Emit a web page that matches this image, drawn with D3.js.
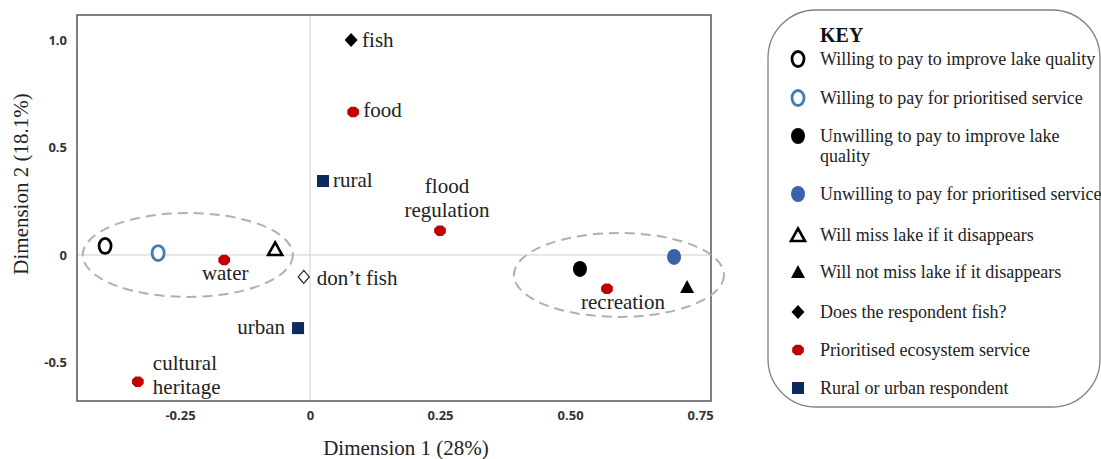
<!DOCTYPE html>
<html>
<head>
<meta charset="utf-8">
<script src="https://cdn.jsdelivr.net/npm/d3@7"></script>
<style>
  body { margin: 0; background: #fff; }
  svg text { font-family: "Palatino Linotype", "Book Antiqua", Palatino, "Liberation Serif", serif; fill: #222; }
  .tick text { font-family: "Open Sans", sans-serif; font-weight: 700; font-size: 13px; fill: #333; }
</style>
</head>
<body>
<div id="chart"></div>
<script>

// points of the correspondence analysis
var pointNames = ["fish", "food", "rural", "flood\nregulation", "", "", "water", "",
                  "don\u2019t fish", "urban", "cultural\nheritage", "", "recreation", "", ""];
var pointKinds = ["diamond", "hex", "square", "hex", "openCircle", "openCircleBlue", "hex", "openTri",
                  "openDiamond", "square", "hex", "dot", "hex", "dotBlue", "tri"];
var dim1 = [0.079, 0.083, 0.025, 0.250, -0.394, -0.292, -0.165, -0.067,
            -0.012, -0.023, -0.331, 0.519, 0.571, 0.700, 0.725];
var dim2 = [1.000, 0.665, 0.344, 0.113, 0.042, 0.009, -0.023, 0.028,
            -0.102, -0.340, -0.589, -0.065, -0.157, -0.009, -0.149];

// dashed cluster ellipses (data units)
var clusterCx = [-0.235, 0.594];
var clusterCy = [0.000, -0.093];
var clusterRx = [0.202, 0.202];
var clusterRy = [0.195, 0.195];

// axes
var xTicks = [-0.25, 0, 0.25, 0.5, 0.75];
var xTickLabels = ["-0.25", "0", "0.25", "0.50", "0.75"];
var yTicks = [-0.5, 0, 0.5, 1.0];
var yTickLabels = ["-0.5", "0", "0.5", "1.0"];

// key
var keyKinds = ["openCircle", "openCircleBlue", "dot", "dotBlue", "openTri", "tri", "diamond", "hex", "square"];
var keyLabels = ["Willing to pay to improve lake quality",
                 "Willing to pay for prioritised service",
                 "Unwilling to pay to improve lake\nquality",
                 "Unwilling to pay for prioritised service",
                 "Will miss lake if it disappears",
                 "Will not miss lake if it disappears",
                 "Does the respondent fish?",
                 "Prioritised ecosystem service",
                 "Rural or urban respondent"];

//--------------------------------------------------------------------------
//
// chart
//

var margin = {top: 15, right: 390, bottom: 58, left: 77},
    outerWidth = 1101,
    outerHeight = 459,
    width = outerWidth - margin.left - margin.right,
    height = outerHeight - margin.top - margin.bottom;

var svg = d3.select("#chart").append("svg")
    .attr("width", outerWidth)
    .attr("height", outerHeight);

var g = svg.append("g")
    .attr("transform", "translate(" + margin.left + "," + margin.top + ")");

var x = d3.scaleLinear().domain([-0.448, 0.771]).range([0, width]);
var y = d3.scaleLinear().domain([-0.679, 1.116]).range([height, 0]);

// zero lines
g.append("line")
    .attr("x1", x(0)).attr("x2", x(0)).attr("y1", 0).attr("y2", height)
    .attr("stroke", "#cfcfcf").attr("stroke-width", 1);
g.append("line")
    .attr("x1", 0).attr("x2", width).attr("y1", y(0)).attr("y2", y(0))
    .attr("stroke", "#cfcfcf").attr("stroke-width", 1);

// axes
var xAxis = g.append("g")
    .attr("transform", "translate(0," + height + ")")
    .call(d3.axisBottom(x).tickValues(xTicks).tickSize(0).tickPadding(10)
      .tickFormat(function(d, i) { return xTickLabels[i]; }));
xAxis.select(".domain").remove();

var yAxis = g.append("g")
    .call(d3.axisLeft(y).tickValues(yTicks).tickSize(0).tickPadding(10)
      .tickFormat(function(d, i) { return yTickLabels[i]; }));
yAxis.select(".domain").remove();

// frame
g.append("rect")
    .attr("width", width).attr("height", height)
    .attr("fill", "none").attr("stroke", "#555").attr("stroke-width", 1.5);

// axis titles
svg.append("text")
    .attr("x", 406).attr("y", 455)
    .attr("text-anchor", "middle")
    .style("font-size", "21px")
    .text("Dimension 1 (28%)");

svg.append("text")
    .attr("transform", "translate(28,184) rotate(-90)")
    .attr("text-anchor", "middle")
    .style("font-size", "21px")
    .text("Dimension 2 (18.1%)");

// clusters
g.selectAll(".cluster")
    .data(clusterCx)
  .enter().append("ellipse")
    .attr("class", "cluster")
    .attr("cx", function(d) { return x(d); })
    .attr("cy", function(d, i) { return y(clusterCy[i]); })
    .attr("rx", function(d, i) { return x(clusterRx[i]) - x(0); })
    .attr("ry", function(d, i) { return y(0) - y(clusterRy[i]); })
    .attr("fill", "none")
    .attr("stroke", "#b0b0b0")
    .attr("stroke-width", 2)
    .attr("stroke-dasharray", "10,6");

// marker drawing
var red = "#c00000", navy = "#0c2a5e", blue1 = "#3f7bb6", blue2 = "#3b62a8";

function octagon(r) {
  return d3.line()(d3.range(8).map(function(k) {
    var a = Math.PI / 8 + k * Math.PI / 4;
    return [r * Math.cos(a), r * Math.sin(a) * 0.9];
  })) + "Z";
}

function drawMarker(sel, kind) {
  if (kind === "openCircle" || kind === "openCircleBlue") {
    sel.append("ellipse").attr("rx", 6).attr("ry", 7.5)
      .attr("fill", "#fff")
      .attr("stroke", kind === "openCircle" ? "#000" : blue1)
      .attr("stroke-width", 2.8);
  } else if (kind === "dot" || kind === "dotBlue") {
    sel.append("ellipse").attr("rx", 7).attr("ry", 8)
      .attr("fill", kind === "dot" ? "#000" : blue2);
  } else if (kind === "openTri") {
    sel.append("path").attr("d", "M0,-6.5L7,6L-7,6Z")
      .attr("fill", "#fff").attr("stroke", "#000").attr("stroke-width", 2.6)
      .attr("stroke-linejoin", "miter");
  } else if (kind === "tri") {
    sel.append("path").attr("d", "M0,-7L7,6L-7,6Z").attr("fill", "#000");
  } else if (kind === "diamond") {
    sel.append("path").attr("d", "M0,-7L6.5,0L0,7L-6.5,0Z").attr("fill", "#000");
  } else if (kind === "openDiamond") {
    sel.append("path").attr("d", "M0,-6.5L5.5,0L0,6.5L-5.5,0Z")
      .attr("fill", "#fff").attr("stroke", "#222").attr("stroke-width", 1.2);
  } else if (kind === "hex") {
    sel.append("path").attr("d", octagon(6.3)).attr("fill", red);
  } else if (kind === "square") {
    sel.append("rect").attr("x", -6).attr("y", -6).attr("width", 12).attr("height", 12)
      .attr("fill", navy);
  }
}

// label placement: [dx, dy of first baseline, anchor]
var labelPlace = {
  "fish": [11, 7, "start"],
  "food": [10, 5, "start"],
  "rural": [10, 6, "start"],
  "flood\nregulation": [7, -38, "middle"],
  "water": [1, 20, "middle"],
  "don\u2019t fish": [13, 8, "start"],
  "urban": [-13, 6, "end"],
  "cultural\nheritage": [15, -12, "start"],
  "recreation": [16, 20, "middle"]
};

var points = g.selectAll(".point")
    .data(dim1)
  .enter().append("g")
    .attr("class", "point")
    .attr("transform", function(d, i) { return "translate(" + x(d) + "," + y(dim2[i]) + ")"; });

points.each(function(d, i) {
  var sel = d3.select(this);
  drawMarker(sel, pointKinds[i]);
  var name = pointNames[i];
  if (!name) return;
  var p = labelPlace[name];
  var t = sel.append("text")
      .attr("text-anchor", p[2])
      .style("font-size", "21px");
  name.split("\n").forEach(function(line, j) {
    t.append("tspan").attr("x", p[0]).attr("y", p[1] + j * 24).text(line);
  });
});

//--------------------------------------------------------------------------
//
// key
//

var key = svg.append("g").attr("transform", "translate(768,10)");

key.append("rect")
    .attr("width", 332).attr("height", 397)
    .attr("rx", 48).attr("ry", 48)
    .attr("fill", "#fff").attr("stroke", "#808080").attr("stroke-width", 1.3);

key.append("text")
    .attr("x", 52).attr("y", 32)
    .style("font-size", "20px").style("font-weight", "700").style("fill", "#111")
    .text("KEY");

var rowY = [49, 88, 126, 184, 225, 262, 302, 340, 378];

var rows = key.selectAll(".keyrow")
    .data(keyLabels)
  .enter().append("g")
    .attr("class", "keyrow")
    .attr("transform", function(d, i) { return "translate(30," + rowY[i] + ")"; });

rows.each(function(d, i) {
  var sel = d3.select(this);
  drawMarker(sel, keyKinds[i]);
  var t = sel.append("text").style("font-size", "18px");
  d.split("\n").forEach(function(line, j) {
    t.append("tspan").attr("x", 22).attr("y", 6 + j * 20).text(line);
  });
});

</script>
</body>
</html>
